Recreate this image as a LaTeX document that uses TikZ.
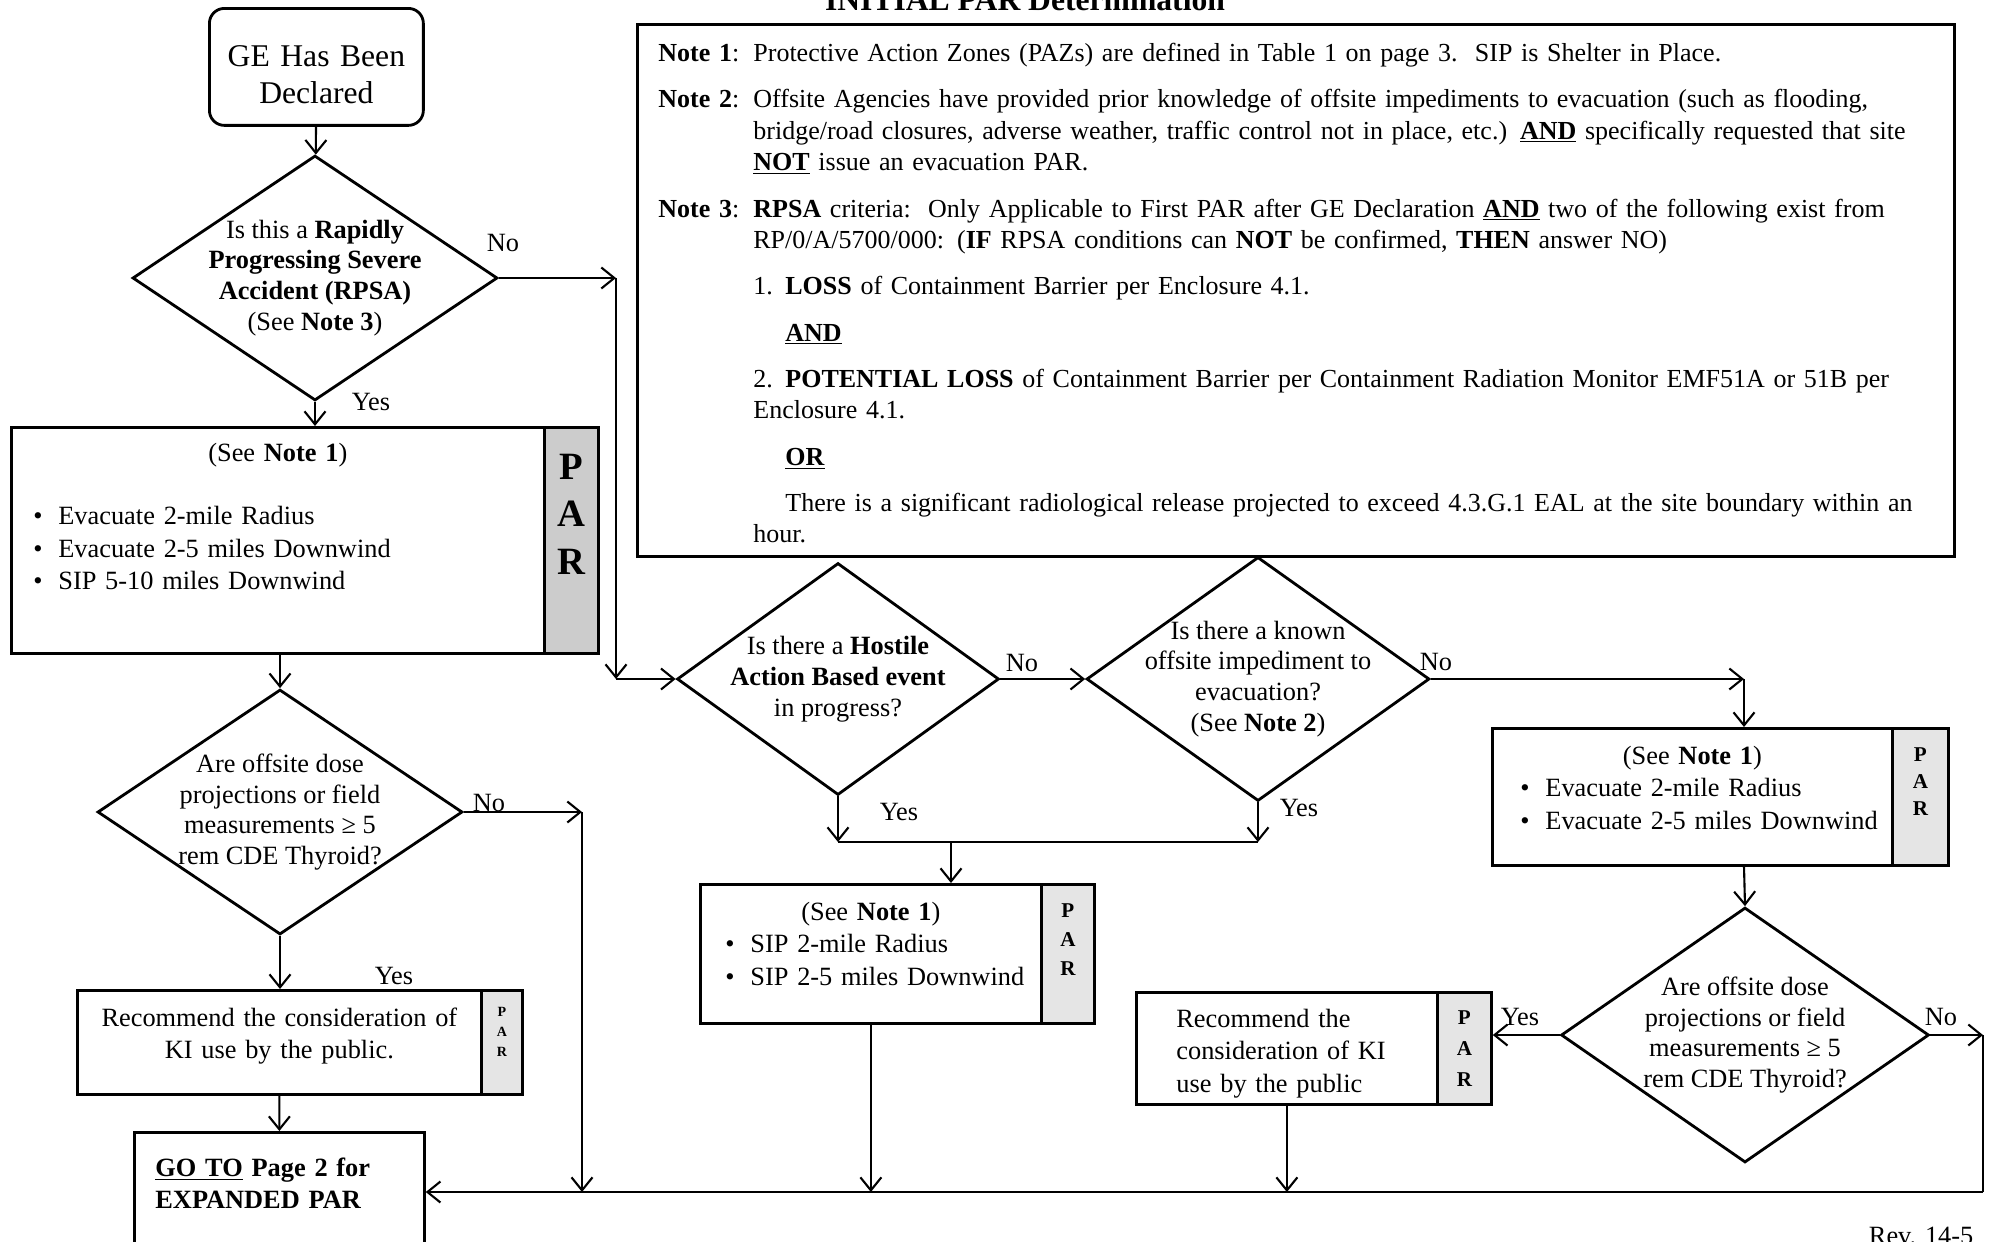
\documentclass[tikz,border=0pt]{standalone}
\usepackage{fontspec}
\setmainfont{Liberation Serif}
\usetikzlibrary{shapes.geometric,arrows.meta,positioning}
\newcommand{\pb}[1]{\makebox[0.5cm][l]{\textbullet}\mbox{#1}}
\tikzset{
mybox/.style={
  draw,
  line width=1.6pt,
  inner sep=0pt,
  anchor=north west,
  font=\fontsize{15}{18.5}\selectfont
  },
mystrip/.style={
  mybox,
  fill=black!10,
  align=center
  },
mydiam/.style={
  draw,
  diamond,
  shape aspect=1.45,
  line width=1.6pt,
  inner sep=-0.3cm,
  align=center,
  font=\fontsize{15}{17.5}\selectfont
  },
mylbl/.style={
  inner sep=1pt,
  font=\fontsize{15}{18}\selectfont
  }
}

\begin{document}
\begin{tikzpicture}[x=0.02cm, y=-0.02cm, line width=1.2pt,
  >={Straight Barb[length=0.26cm,width=0.42cm]}]
\useasboundingbox (0,0) rectangle (1993,1241);

\node[anchor=base, font=\bfseries\fontsize{18}{21}\selectfont]
at (1025,10)
(title)
{INITIAL PAR Determination};

\node[mybox, rounded corners=0.3cm, text width=4.28cm, align=center,
  text height=1.16cm, text depth=1.18cm,
  font=\fontsize{18}{21}\selectfont]
at (208,7)
(start)
{GE Has Been\\Declared};

\node[mydiam, minimum width=7.3cm, minimum height=4.9cm]
at (315,278)
(rpsa)
{Is this a \textbf{Rapidly}\\\textbf{Progressing Severe}\\\textbf{Accident (RPSA)}\\(See \textbf{Note 3})};

\node[mybox, text width=25.5cm, inner xsep=0.42cm,
  text height=0.74cm, text depth=9.9cm,
  font=\fontsize{14.8}{18}\selectfont]
at (636,23)
(notes)
{\setlength{\parskip}{8.3pt}\rightskip=-1.5cm
\hangindent=1.9cm\hangafter=1\makebox[1.9cm][l]{\textbf{Note 1}:}Protective Action Zones (PAZs) are defined in Table 1 on page 3.\ \ SIP is Shelter in Place.\par
\hangindent=1.9cm\hangafter=1\makebox[1.9cm][l]{\textbf{Note 2}:}Offsite Agencies have provided prior knowledge of offsite impediments to evacuation (such as flooding,\newline
bridge/road closures, adverse weather, traffic control not in place, etc.) \underline{\textbf{AND}} specifically requested that site\newline
\underline{\textbf{NOT}} issue an evacuation PAR.\par
\hangindent=1.9cm\hangafter=1\makebox[1.9cm][l]{\textbf{Note 3}:}\textbf{RPSA} criteria:\ \ Only Applicable to First PAR after GE Declaration \underline{\textbf{AND}} two of the following exist from\newline
RP/0/A/5700/000: (\textbf{IF} RPSA conditions can \textbf{NOT} be confirmed, \textbf{THEN} answer NO)\par
\leftskip=1.9cm
\makebox[0.64cm][l]{1.}\textbf{LOSS} of Containment Barrier per Enclosure 4.1.\par
\hspace*{0.64cm}\underline{\textbf{AND}}\par
\makebox[0.64cm][l]{2.}\textbf{POTENTIAL LOSS} of Containment Barrier per Containment Radiation Monitor EMF51A or 51B per\newline
Enclosure 4.1.\par
\hspace*{0.64cm}\underline{\textbf{OR}}\par
\hspace*{0.64cm}There is a significant radiological release projected to exceed 4.3.G.1 EAL at the site boundary within an\newline
hour.\par};

\node[mybox, text width=9.78cm, inner xsep=0.44cm,
  text height=0.68cm, text depth=3.84cm]
at (10,426)
(box1)
{\centering (See \textbf{Note 1})\par\vspace{17.6pt}\raggedright
\pb{Evacuate 2-mile Radius}\\
\pb{Evacuate 2-5 miles Downwind}\\
\pb{SIP 5-10 miles Downwind}};
\node[mystrip, fill=black!20, text width=1.08cm,
  text height=1.04cm, text depth=3.48cm,
  font=\bfseries\fontsize{22}{27}\selectfont]
at (543,426)
(strip1)
{P\\A\\R};

\node[mydiam, minimum width=7.3cm, minimum height=4.9cm]
at (280,812)
(dose1)
{Are offsite dose\\projections or field\\measurements ≥ 5\\rem CDE Thyroid?};

\node[mybox, text width=7.68cm, inner xsep=0.2cm, align=center,
  text height=0.72cm, text depth=1.36cm]
at (76,989)
(ki1)
{Recommend the consideration of\\KI use by the public.};
\node[mystrip, text width=0.82cm,
  text height=0.52cm, text depth=1.56cm,
  font=\bfseries\fontsize{8}{11.4}\selectfont]
at (480,989)
(kistrip1)
{P\\A\\R};

\node[mybox, text width=4.96cm, inner xsep=0.42cm, align=left,
  text height=0.88cm, text depth=2.3cm,
  font=\bfseries\fontsize{15}{18.5}\selectfont]
at (133,1131)
(goto)
{\underline{GO TO} Page 2 for\\EXPANDED PAR};

\node[mydiam, minimum width=6.44cm, minimum height=4.64cm]
at (838,679)
(hostile)
{Is there a \textbf{Hostile}\\\textbf{Action Based event}\\in progress?};

\node[mydiam, minimum width=6.86cm, minimum height=4.88cm]
at (1258,679)
(imped)
{Is there a known\\offsite impediment to\\evacuation?\\(See \textbf{Note 2})};

\node[mybox, text width=5.82cm, inner xsep=0.5cm,
  text height=0.72cm, text depth=2.06cm]
at (699,883)
(sip)
{\centering (See \textbf{Note 1})\par\raggedright
\pb{SIP 2-mile Radius}\\
\pb{SIP 2-5 miles Downwind}};
\node[mystrip, text width=1.06cm,
  text height=0.66cm, text depth=2.12cm,
  font=\bfseries\fontsize{12}{16.5}\selectfont]
at (1040,883)
(sipstrip)
{P\\A\\R};

\node[mybox, text width=6.88cm, inner xsep=0.56cm,
  text height=0.72cm, text depth=2.02cm]
at (1491,727)
(evac2)
{\centering (See \textbf{Note 1})\par\raggedright
\pb{Evacuate 2-mile Radius}\\
\pb{Evacuate 2-5 miles Downwind}};
\node[mystrip, text width=1.12cm,
  text height=0.66cm, text depth=2.08cm,
  font=\bfseries\fontsize{12}{15.4}\selectfont]
at (1891,727)
(evacstrip2)
{P\\A\\R};

\node[mydiam, minimum width=7.36cm, minimum height=5.1cm]
at (1745,1035)
(dose2)
{Are offsite dose\\projections or field\\measurements ≥ 5\\rem CDE Thyroid?};

\node[mybox, text width=4.42cm, inner xsep=0.8cm, align=left,
  text height=0.7cm, text depth=1.54cm]
at (1135,991)
(ki2)
{Recommend the\\consideration of KI\\use by the public};
\node[mystrip, text width=1.08cm,
  text height=0.64cm, text depth=1.6cm,
  font=\bfseries\fontsize{12}{17.6}\selectfont]
at (1436,991)
(kistrip2)
{P\\A\\R};

\node[anchor=base west, font=\fontsize{15}{18}\selectfont]
at (1862,1244)
(rev)
{Rev. 14-5};

\node[mylbl] at (503,243) (no1) {No};
\node[mylbl] at (371,402) (yes1) {Yes};
\node[mylbl] at (489,803) (no2) {No};
\node[mylbl] at (394,976) (yes2) {Yes};
\node[mylbl] at (1022,663) (no3) {No};
\node[mylbl] at (899,812) (yes3) {Yes};
\node[mylbl] at (1436,662) (no4) {No};
\node[mylbl] at (1299,808) (yes4) {Yes};
\node[mylbl] at (1520,1017) (yes5) {Yes};
\node[mylbl] at (1941,1017) (no5) {No};

\coordinate (c1) at (616,278);
\coordinate (c1b) at (616,679);
\coordinate (c2) at (582,812);
\coordinate (c2b) at (582,1192);
\coordinate (c3) at (838,842);
\coordinate (c4) at (1258,842);
\coordinate (c5) at (951,842);
\coordinate (c6) at (1744,679);
\coordinate (c7) at (1983,1035);
\coordinate (c7b) at (1983,1192);

\draw[->] (start) -- (rpsa);
\draw[->] (rpsa.east) -- (c1);
\draw[->] (c1) -- (c1b);
\draw[->] (c1b) -- (hostile.west);
\draw[->] (rpsa.south) -- (rpsa.south |- box1.north);
\draw[->] (dose1.north |- box1.south) -- (dose1.north);
\draw[->] (dose1.east) -- (c2);
\draw[->] (c2) -- (c2b);
\draw[->] (dose1.south) -- (dose1.south |- ki1.north);
\draw[->] (ki1.south) -- (goto.north);
\draw[->] (hostile.east) -- (imped.west);
\draw[->] (hostile.south) -- (c3);
\draw[->] (imped.south) -- (c4);
\draw (c3) -- (c4);
\draw[->] (c5) -- (c5 |- sip.north);
\draw[->] (sip.south) -- (sip.south |- c2b);
\draw[->] (imped.east) -- (c6);
\draw[->] (c6) -- (c6 |- evac2.north);
\draw[->] (c6 |- evac2.south) -- (dose2.north);
\draw[->] (dose2.west) -- (dose2.west -| kistrip2.east);
\draw[->] (dose2.east) -- (c7);
\draw (c7) -- (c7b);
\draw[->] (c7b) -- (c7b -| goto.east);
\draw[->] (ki2.south) -- (ki2.south |- c7b);
\end{tikzpicture}
\end{document}
